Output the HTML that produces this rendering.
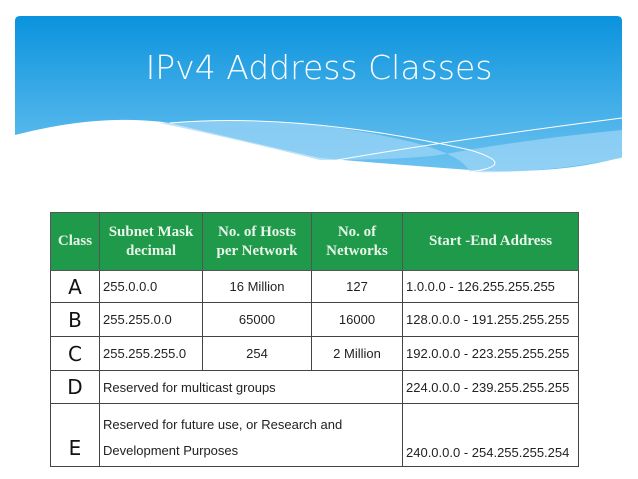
<!DOCTYPE html>
<html><head><style>
body{margin:0;width:638px;height:479px;background:#fff;position:relative;overflow:hidden;font-family:"Liberation Sans",sans-serif}
.title{position:absolute;left:0;width:638px;top:48px;text-align:center;color:#fff;font-size:33px;font-family:"DejaVu Sans","Liberation Sans",sans-serif;font-weight:300;letter-spacing:0px}
table{position:absolute;left:50px;top:212px;border-collapse:collapse;width:529px;font-family:"Liberation Sans Narrow","Liberation Sans",sans-serif;font-size:13px;color:#222}
td,th{border:1.5px solid #444;padding:0 3px}
th{background:#1f9a4a;color:#e8f5e8;font-family:"Liberation Serif",serif;font-size:15px;font-weight:bold;line-height:19px;border-color:#555}
td.c{text-align:center}
td.k{text-align:center;font-size:20px;font-weight:normal;font-family:"DejaVu Sans",sans-serif;color:#111}
</style></head><body>
<svg width="638" height="180" style="position:absolute;left:0;top:0">
<defs><linearGradient id="g" x1="0" y1="0" x2="0" y2="1"><stop offset="0" stop-color="#0a93dd"/><stop offset="1" stop-color="#6cc2f0"/></linearGradient></defs>
<path d="M20,16 H617 Q622,16 622,21 V157 Q560,175 470,170 Q400,165 320,158 Q240,140 170,123 Q100,113 15,135 V21 Q15,16 20,16Z" fill="url(#g)"/>
<path d="M160,123 Q280,115 380,135 Q460,150 470,172 Q540,174 622,158 V130 Q520,140 440,155 Q400,160 320,160 Q240,140 160,123Z" fill="#9fd6f6" opacity="0.7"/>
<path d="M170,123 Q300,112 470,150 Q520,165 470,172" stroke="#fff" fill="none" stroke-width="1"/>
<path d="M320,163 Q450,140 622,118" stroke="#fff" fill="none" stroke-width="1"/>
</svg>
<div class="title">IPv4 Address Classes</div>
<table>
<tr style="height:58px"><th style="width:42px">Class</th><th style="width:96px">Subnet Mask<br>decimal</th><th style="width:102px">No. of Hosts<br>per Network</th><th style="width:84px">No. of<br>Networks</th><th>Start -End Address</th></tr>
<tr style="height:32px"><td class="k">A</td><td>255.0.0.0</td><td class="c">16 Million</td><td class="c">127</td><td>1.0.0.0 - 126.255.255.255</td></tr>
<tr style="height:34px"><td class="k">B</td><td>255.255.0.0</td><td class="c">65000</td><td class="c">16000</td><td>128.0.0.0 - 191.255.255.255</td></tr>
<tr style="height:34px"><td class="k">C</td><td>255.255.255.0</td><td class="c">254</td><td class="c">2 Million</td><td>192.0.0.0 - 223.255.255.255</td></tr>
<tr style="height:33px"><td class="k">D</td><td colspan="3">Reserved for multicast groups</td><td>224.0.0.0 - 239.255.255.255</td></tr>
<tr style="height:63px"><td class="k" style="vertical-align:bottom;padding-bottom:6px">E</td><td colspan="3" style="line-height:26px;vertical-align:bottom;padding-bottom:2px">Reserved for future use, or Research and<br>Development Purposes</td><td style="vertical-align:bottom;padding-bottom:6px">240.0.0.0 - 254.255.255.254</td></tr>
</table>
</body></html>
